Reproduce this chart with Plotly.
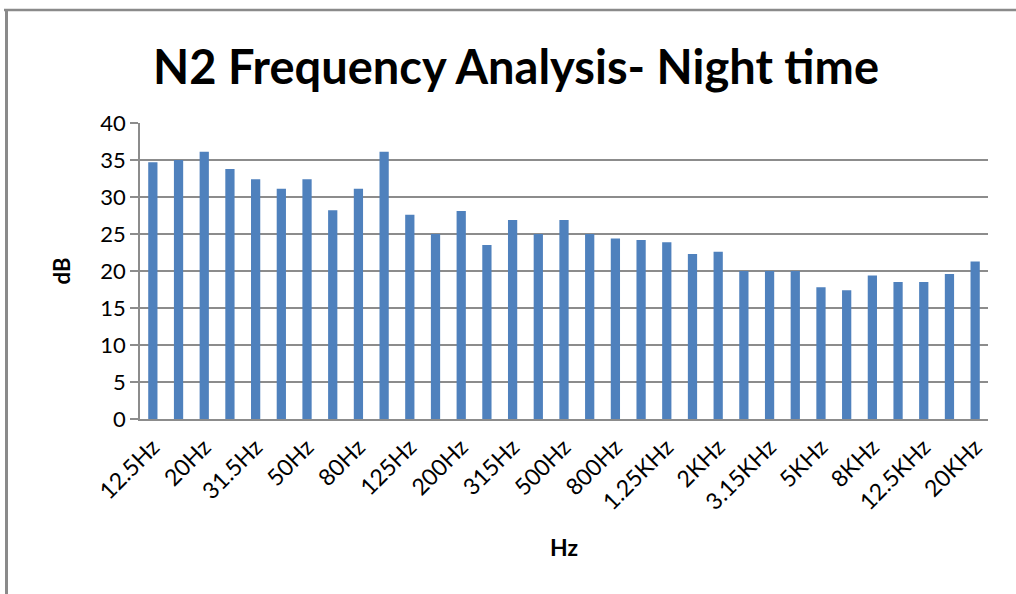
import plotly.graph_objects as go

categories = ["12.5Hz", "16Hz", "20Hz", "25Hz", "31.5Hz", "40Hz", "50Hz", "63Hz", "80Hz", "100Hz",
              "125Hz", "160Hz", "200Hz", "250Hz", "315Hz", "400Hz", "500Hz", "630Hz", "800Hz", "1KHz",
              "1.25KHz", "1.6KHz", "2KHz", "2.5KHz", "3.15KHz", "4KHz", "5KHz", "6.3KHz", "8KHz", "10KHz",
              "12.5KHz", "16KHz", "20KHz"]
db_values = [34.7, 35.0, 36.1, 33.8, 32.4, 31.1, 32.4, 28.2, 31.1, 36.1,
             27.6, 25.0, 28.1, 23.5, 26.9, 25.0, 26.9, 25.0, 24.4, 24.2,
             23.9, 22.3, 22.6, 20.0, 20.0, 20.0, 17.8, 17.4, 19.4, 18.5,
             18.5, 19.6, 21.3]
tick_labels = categories[::2]
y_ticks = [0, 5, 10, 15, 20, 25, 30, 35, 40]

FONT = "Lato, Carlito, 'Open Sans', sans-serif"

fig = go.Figure(go.Bar(x=categories, y=db_values, marker=dict(color="#4F81BD", line=dict(width=0))))

L, R, T, B = 140, 28, 123, 175
W, H = 1016, 594
pw = W - L - R
ph = H - T - B

fig.update_layout(
    width=W, height=H,
    margin=dict(l=L, r=R, t=T, b=B, autoexpand=False),
    paper_bgcolor="white", plot_bgcolor="white",
    bargap=0.64,
    showlegend=False,
    font=dict(family=FONT, color="#000000", size=18),
    title=dict(text="<b>N2 Frequency Analysis- Night time</b>", x=516 / W, xanchor="center",
               y=1 - 68 / H, yanchor="middle", font=dict(family=FONT, size=47, color="#000000")),
)

fig.update_xaxes(
    type="category",
    tickmode="array", tickvals=tick_labels, ticktext=tick_labels,
    tickangle=-45, ticks="", showgrid=False,
    showline=True, linecolor="#8c8c8c", linewidth=1.5,
    ticklabelstandoff=4,
    tickfont=dict(family=FONT, size=23, color="#000000"),
    title=dict(text="<b>Hz</b>", standoff=26, font=dict(family=FONT, size=23, color="#000000")),
)
fig.update_yaxes(
    range=[0, 40], tickmode="array", tickvals=y_ticks,
    showgrid=True, gridcolor="#8c8c8c", gridwidth=1.5,
    showline=True, linecolor="#8c8c8c", linewidth=1.5,
    ticks="outside", ticklen=8, tickcolor="#8c8c8c", tickwidth=1.5,
    tickfont=dict(family=FONT, size=22, color="#000000"),
    zeroline=False,
    title=dict(text="<b>dB</b>", standoff=24, font=dict(family=FONT, size=22, color="#000000")),
)

# outer frame of the embedded chart (top and left edges)
def px_x(p):
    return (p - L) / pw

def px_y(p):
    return 1 - (p - T) / ph

fig.add_shape(type="line", xref="paper", yref="paper", x0=px_x(4), x1=px_x(1016), y0=px_y(10), y1=px_y(10),
              line=dict(color="#8a8a8a", width=2.5))
fig.add_shape(type="line", xref="paper", yref="paper", x0=px_x(6.5), x1=px_x(6.5), y0=px_y(10), y1=px_y(594),
              line=dict(color="#8a8a8a", width=3))

fig.write_html("out.html", config={"displayModeBar": False},
               post_script="document.body.style.margin='0';")
